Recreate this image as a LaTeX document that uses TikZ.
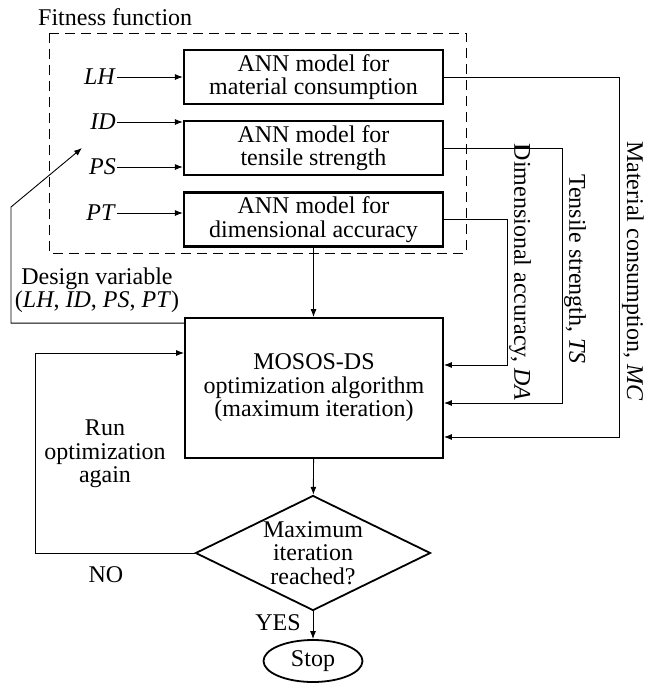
\documentclass[tikz,border=0pt]{standalone}
\usepackage{fontspec}
\setmainfont{Liberation Serif}
\usetikzlibrary{positioning,arrows.meta,shapes.geometric}

\begin{document}
\begin{tikzpicture}[
  x=1pt, y=-1pt,
  font=\fontsize{24}{23.5}\selectfont,
  node distance=15pt,
  box/.style={draw, line width=2.2pt, minimum width=259pt, minimum height=54pt, align=center, inner sep=1pt},
  arr/.style={-{Latex[length=8pt,width=6pt]}, line width=0.9pt},
  lbl/.style={align=center, inner sep=1pt}
]
\useasboundingbox (0,0) rectangle (646,683);
\node[anchor=west, inner sep=0pt] (fitlbl) at (38,17) {Fitness function};
\draw[dashed, dash pattern=on 10pt off 6pt, line width=0.9pt] (49,33) rectangle (466,253);

\node[box] (annmc) at (313.5,77) {ANN model for\\material consumption};
\node[box, below=of annmc] (annts) {ANN model for\\tensile strength};
\node[box, below=of annts] (annda) {ANN model for\\dimensional accuracy};

\node[lbl, anchor=east] (lh) at (117,77) {\textit{LH}};
\node[lbl, anchor=east] (id) at (117,122) {\textit{ID}};
\node[lbl, anchor=east] (ps) at (117,167) {\textit{PS}};
\node[lbl, anchor=east] (pt) at (117,213) {\textit{PT}};

\node[box, line width=1.8pt, minimum width=258pt, minimum height=140pt] (mosos) at (314,388) {MOSOS-DS\\optimization algorithm\\(maximum iteration)};
\node[diamond, draw, line width=1.8pt, aspect=2.04, minimum width=235pt, minimum height=115pt, inner sep=-4pt, align=center] (check) at (313,553) {Maximum\\iteration\\reached?};
\node[ellipse, draw, line width=1.8pt, minimum width=99pt, minimum height=42pt, inner sep=0pt] (stop) at (313,661) {Stop};

% labels
\node[lbl] (dvlbl) at (97,290) {Design variable\\(\textit{LH}, \textit{ID}, \textit{PS}, \textit{PT})};
\node[lbl] (again) at (105,454) {Run\\optimization\\again};
\node[lbl] (no) at (106,575) {NO};
\node[lbl] (yes) at (278,623) {YES};
\node[rotate=-90, inner sep=0pt] (mclbl) at (633,271) {Material consumption, \textit{MC}};
\node[rotate=-90, inner sep=0pt] (tslbl) at (575,269) {Tensile strength, \textit{TS}};
\node[rotate=-90, inner sep=0pt] (dalbl) at (520,272) {Dimensional accuracy, \textit{DA}};

\coordinate (dvbend) at (11,207);
\coordinate (dvtip) at (82,148);
\coordinate (loopx) at (35,353);

\draw[arr] (lh.east) -- (lh.east -| annmc.west);
\draw[arr] (id.east) -- (id.east -| annts.west);
\draw[arr] (ps.east) -- (ps.east -| annts.west);
\draw[arr] (pt.east) -- (pt.east -| annda.west);
\draw[arr] (annda.south) -- (annda.south |- mosos.north);
\draw[arr] (mosos) -- (check);
\draw[arr] (check) -- (stop);
\draw[arr] (annmc.east) -- ++(175,0) |- ([yshift=-49pt]mosos.east);
\draw[arr] (annts.east) -- ++(118,0) |- ([yshift=-15pt]mosos.east);
\draw[arr] (annda.east) -- ++(63,0) |- ([yshift=23pt]mosos.east);
\draw[arr] ([yshift=-6pt]mosos.north west) -| (dvbend) -- (dvtip);
\draw[arr] (check.west) -| (loopx) -- (loopx -| mosos.west);
\end{tikzpicture}
\end{document}
